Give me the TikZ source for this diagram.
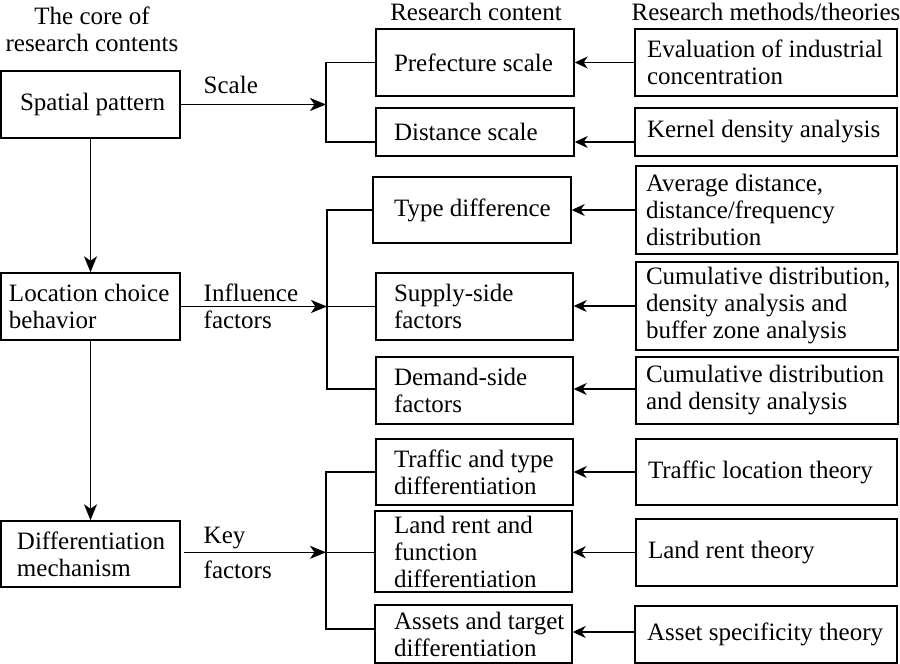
\documentclass[tikz,border=0pt]{standalone}
\usepackage{fontspec}
\setmainfont{Liberation Serif}
\usetikzlibrary{arrows.meta}
\begin{document}
\begin{tikzpicture}[x=0.5pt,y=-0.5pt, line width=0.7pt,
 box/.style={draw, rectangle, inner sep=0pt},
 txt/.style={inner sep=0pt, align=left, font=\fontsize{12.5}{13.5}\selectfont},
 arr/.style={-{Stealth[length=8pt,width=6.5pt,inset=2.2pt]}},
 arrs/.style={-{Stealth[length=6.5pt,width=6pt,inset=2pt]}}]
\useasboundingbox (0,0) rectangle (900,664);

% headers
\node[txt, align=center] (h1) at (92,29) {The core of\\research contents};
\node[txt] (h2) at (476,12) {Research content};
\node[txt] (h3) at (766,12) {Research methods/theories};

% left column
\node[box, minimum width=89.5pt, minimum height=33.5pt] (sp) at (90.5,104.5) {};
\node[txt, anchor=west] (tsp) at ([xshift=9.5pt]sp.west) {Spatial pattern};
\node[box, minimum width=89.5pt, minimum height=33.5pt] (lc) at (90.5,306.5) {};
\node[txt, anchor=west] (tlc) at ([xshift=4pt]lc.west) {Location choice\\behavior};
\node[box, minimum width=89.5pt, minimum height=33pt] (dm) at (90.5,554) {};
\node[txt, anchor=west] (tdm) at ([xshift=8pt]dm.west) {Differentiation\\mechanism};

% middle column
\node[box, minimum width=99pt, minimum height=33.5pt] (pf) at (475,62.5) {};
\node[txt, anchor=west] (tpf) at ([xshift=9pt]pf.west) {Prefecture scale};
\node[box, minimum width=99pt, minimum height=24pt] (ds) at (475,132) {};
\node[txt, anchor=west] (tds) at ([xshift=9pt]ds.west) {Distance scale};
\node[box, minimum width=99pt, minimum height=33pt] (td) at (472,210) {};
\node[txt, anchor=west] (ttd) at ([xshift=10.5pt]td.west) {Type difference};
\node[box, minimum width=98.5pt, minimum height=33.5pt] (ss) at (474.5,306.5) {};
\node[txt, anchor=west] (tss) at ([xshift=9pt]ss.west) {Supply-side\\factors};
\node[box, minimum width=98.5pt, minimum height=33.5pt] (dd) at (474.5,390.5) {};
\node[txt, anchor=west] (tdd) at ([xshift=9pt]dd.west) {Demand-side\\factors};
\node[box, minimum width=98.5pt, minimum height=33pt] (tt) at (474.5,472) {};
\node[txt, anchor=west] (ttt) at ([xshift=9pt]tt.west) {Traffic and type\\differentiation};
\node[box, minimum width=98.5pt, minimum height=40.5pt] (lr) at (473.5,551.5) {};
\node[txt, anchor=west] (tlr) at ([xshift=9.5pt]lr.west) {Land rent and\\function\\differentiation};
\node[box, minimum width=98.5pt, minimum height=29pt] (as) at (473.5,634) {};
\node[txt, anchor=west] (tas) at ([xshift=9.5pt]as.west) {Assets and target\\differentiation};

% right column
\node[box, minimum width=131pt, minimum height=33.5pt] (ev) at (766,62.5) {};
\node[txt, anchor=west] (tev) at ([xshift=6pt]ev.west) {Evaluation of industrial\\concentration};
\node[box, minimum width=131pt, minimum height=24pt] (kd) at (766,132) {};
\node[txt, anchor=west] (tkd) at ([xshift=6pt]kd.west) {Kernel density analysis};
\node[box, minimum width=130.5pt, minimum height=44pt] (ad) at (766.5,210) {};
\node[txt, anchor=west] (tad) at ([xshift=5pt]ad.west) {Average distance,\\distance/frequency\\distribution};
\node[box, minimum width=131pt, minimum height=44pt] (c1) at (767,306) {};
\node[txt, anchor=west] (tc1) at ([xshift=5pt]c1.west) {Cumulative distribution,\\density analysis and\\buffer zone analysis};
\node[box, minimum width=131pt, minimum height=33.5pt] (c2) at (767,390.5) {};
\node[txt, anchor=west] (tc2) at ([xshift=5pt]c2.west) {Cumulative distribution\\and density analysis};
\node[box, minimum width=130.5pt, minimum height=33pt] (tl) at (766.5,472) {};
\node[txt, anchor=west] (ttl) at ([xshift=6pt]tl.west) {Traffic location theory};
\node[box, minimum width=130.5pt, minimum height=33.5pt] (lt) at (766.5,552.5) {};
\node[txt, anchor=west] (tlt) at ([xshift=6pt]lt.west) {Land rent theory};
\node[box, minimum width=131pt, minimum height=28.5pt] (at) at (766,634.5) {};
\node[txt, anchor=west] (tat) at ([xshift=6pt]at.west) {Asset specificity theory};

% labels
\node[txt, anchor=west] (l1) at (203,85) {Scale};
\node[txt, anchor=west] (l2) at (203,306) {Influence\\factors};
\node[txt, anchor=west] (l3) at (203,553) {Key\\[4pt]factors};

% junction coordinates
\coordinate (j1) at (326,104.5);
\coordinate (j2) at (327,306.5);
\coordinate (j3) at (326,552.3);
\coordinate (y142) at (0,142);
\coordinate (y389) at (0,389);
\coordinate (y629) at (0,629);
\coordinate (y632) at (0,632);

% vertical arrows
\draw[arr] (sp.south) -- (lc.north);
\draw[arr] (lc.south) -- (dm.north);

% horizontal arrows to brackets
\draw[arr] (sp.east) -- (sp.east -| j1);
\draw[arr] (lc.east) -- (lc.east -| j2);
\draw[arr] ([xshift=1.5pt]dm.east |- j3) -- (j3);

% brackets
\draw (pf.west) -| (j1) |- (ds.west |- y142);
\draw (td.west) -| (j2) |- (dd.west |- y389);
\draw (j2) -- (ss.west);
\draw (tt.west) -| (j3) |- (as.west |- y629);
\draw (j3) -- (lr.west |- j3);

% right to middle arrows
\draw[arrs] (ev.west) -- (pf.east |- ev.west);
\draw[arrs] (kd.west |- y142) -- (ds.east |- y142);
\draw[arrs] (ad.west |- td.east) -- (td.east);
\draw[arrs] (c1.west) -- (ss.east |- c1.west);
\draw[arrs] (c2.west |- y389) -- (dd.east |- y389);
\draw[arrs] (tl.west |- tt.east) -- (tt.east);
\draw[arrs] (lt.west |- j3) -- (lr.east |- j3);
\draw[arrs] (at.west |- y632) -- (as.east |- y632);
\end{tikzpicture}
\end{document}
